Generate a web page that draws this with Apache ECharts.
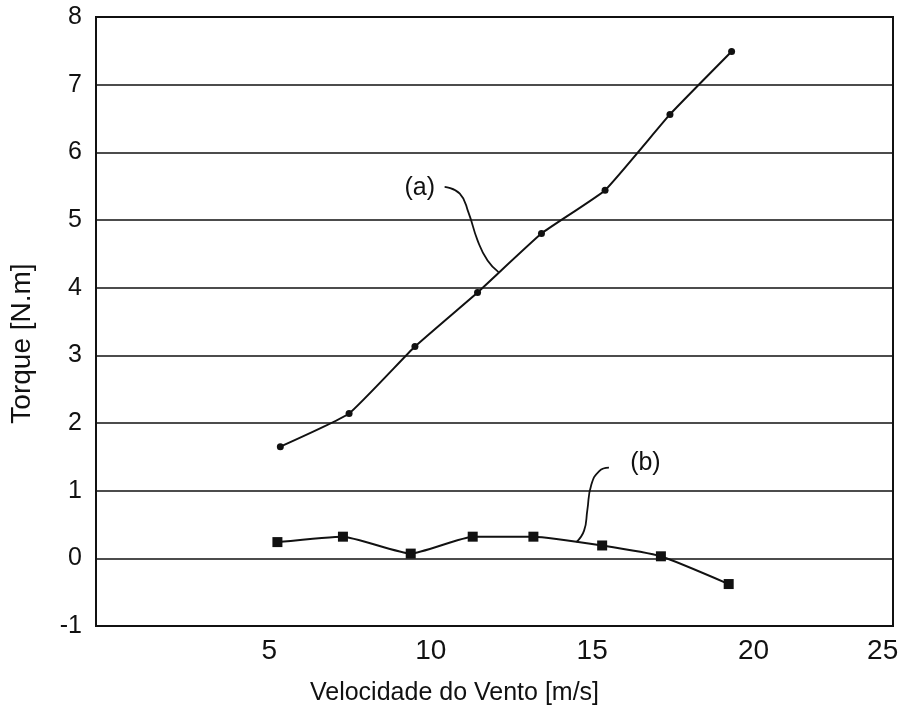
<!DOCTYPE html>
<html>
<head>
<meta charset="utf-8">
<script src="https://cdn.jsdelivr.net/npm/echarts@6/dist/echarts.min.js"></script>
<style>
html,body{margin:0;padding:0;background:#fff;}
#chart{width:906px;height:724px;}
</style>
</head>
<body>
<div id="chart"></div>
<script>
// ---- data ----
var seriesA_x = [5.34, 7.47, 9.51, 11.45, 13.43, 15.40, 17.41, 19.32];
var seriesA_y = [1.65, 2.14, 3.13, 3.93, 4.80, 5.44, 6.56, 7.49];
var seriesB_x = [5.25, 7.28, 9.38, 11.30, 13.18, 15.31, 17.13, 19.23];
var seriesB_y = [0.24, 0.32, 0.07, 0.32, 0.32, 0.19, 0.03, -0.38];
var xTickValues = [5, 10, 15, 20, 25];
var yTickValues = [-1, 0, 1, 2, 3, 4, 5, 6, 7, 8];
var xName = 'Velocidade do Vento [m/s]';
var yName = 'Torque [N.m]';
// annotation labels and their leader curves (data coordinates)
var labelA = '(a)';
var labelA_pos = [9.66, 5.47];
var leaderA_x = [10.43, 10.90, 11.17, 11.45, 11.76, 12.10];
var leaderA_y = [5.49, 5.39, 5.11, 4.70, 4.40, 4.23];
var labelB = '(b)';
var labelB_pos = [16.65, 1.40];
var leaderB_x = [15.52, 15.22, 14.97, 14.85, 14.75, 14.51];
var leaderB_y = [1.34, 1.29, 1.08, 0.71, 0.41, 0.24];

var X_MIN = -0.37, X_MAX = 24.32;

function zip(a, b) { return a.map(function (v, i) { return [v, b[i]]; }); }

var chart = echarts.init(document.getElementById('chart'));
var ink = '#111';
var font = 'Liberation Sans, Arial, sans-serif';

chart.setOption({
  animation: false,
  backgroundColor: '#fff',
  grid: {
    left: 93, right: 13, top: 17, bottom: 98,
    show: true, borderColor: ink, borderWidth: 2, backgroundColor: 'transparent'
  },
  xAxis: {
    type: 'value',
    min: X_MIN, max: X_MAX,
    name: xName,
    nameLocation: 'middle',
    nameGap: 55,
    nameTextStyle: { fontSize: 25, color: ink, fontFamily: font, padding: [0, 80, 0, 0] },
    axisLine: { show: true, onZero: false, lineStyle: { color: ink, width: 2 } },
    axisTick: { show: false },
    splitLine: { show: false },
    axisLabel: {
      fontSize: 28, color: ink, fontFamily: font, margin: 11,
      customValues: xTickValues.map(function (v) { return Math.min(v, X_MAX - 0.32); }),
      formatter: function (v) { return String(Math.round(v / 5) * 5); }
    }
  },
  yAxis: {
    type: 'value',
    min: -1, max: 8, interval: 1,
    name: yName,
    nameLocation: 'middle',
    nameGap: 60,
    nameRotate: 90,
    nameTextStyle: { fontSize: 28, color: ink, fontFamily: font, padding: [0, 44, 0, 0] },
    axisLine: { show: true, onZero: false, lineStyle: { color: ink, width: 2 } },
    axisTick: { show: false },
    splitLine: { show: true, lineStyle: { color: ink, width: 1.6 } },
    axisLabel: {
      fontSize: 25, color: ink, fontFamily: font, margin: 14,
      formatter: function (v) { return yTickValues.indexOf(v) >= 0 ? String(v) : ''; }
    }
  },
  series: [
    {
      name: 'a', type: 'line', data: zip(seriesA_x, seriesA_y),
      smooth: 0.12, symbol: 'circle', symbolSize: 7,
      lineStyle: { color: ink, width: 2 }, itemStyle: { color: ink }, z: 5
    },
    {
      name: 'b', type: 'line', data: zip(seriesB_x, seriesB_y),
      smooth: 0.15, symbol: 'rect', symbolSize: 10,
      lineStyle: { color: ink, width: 2 }, itemStyle: { color: ink }, z: 5
    },
    {
      name: 'leaderA', type: 'line', data: zip(leaderA_x, leaderA_y),
      smooth: 0.5, symbol: 'none', lineStyle: { color: ink, width: 1.8 }, silent: true,
      markPoint: {
        symbol: 'circle', symbolSize: 0,
        label: { show: true, formatter: labelA, fontSize: 25, color: ink, fontFamily: font },
        data: [{ coord: labelA_pos }]
      }
    },
    {
      name: 'leaderB', type: 'line', data: zip(leaderB_x, leaderB_y),
      smooth: 0.5, symbol: 'none', lineStyle: { color: ink, width: 1.8 }, silent: true,
      markPoint: {
        symbol: 'circle', symbolSize: 0,
        label: { show: true, formatter: labelB, fontSize: 25, color: ink, fontFamily: font },
        data: [{ coord: labelB_pos }]
      }
    }
  ]
});
</script>
</body>
</html>
